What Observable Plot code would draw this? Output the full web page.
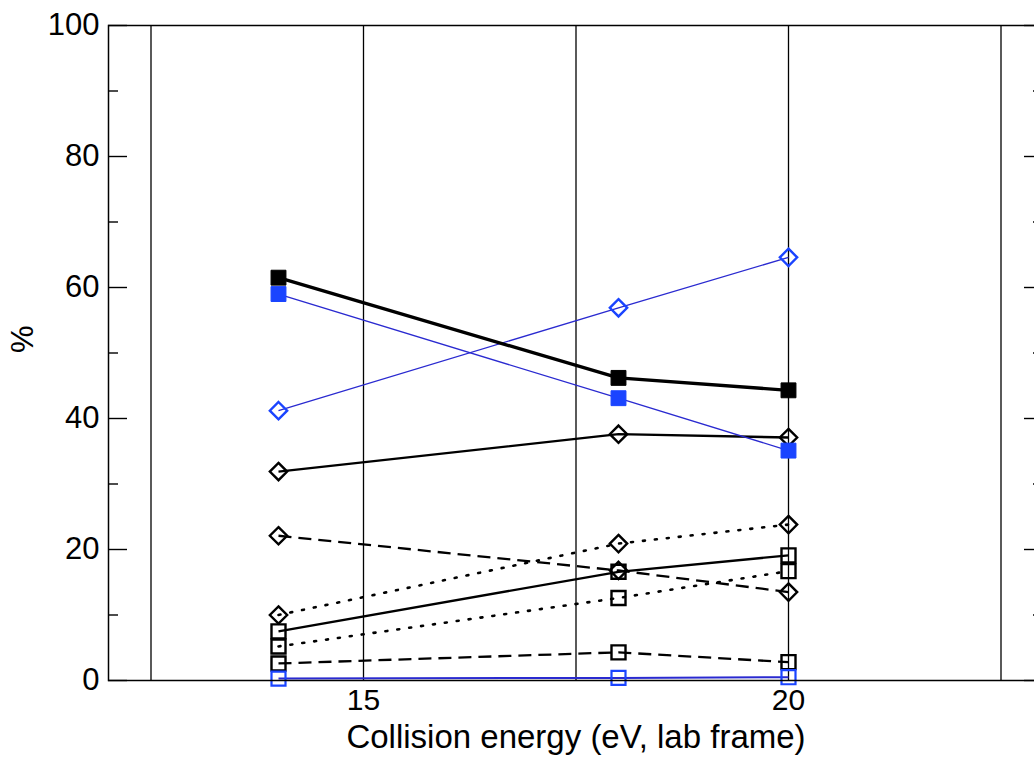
<!DOCTYPE html>
<html><head><meta charset="utf-8">
<script src="https://cdn.jsdelivr.net/npm/d3@7"></script>
<script src="https://cdn.jsdelivr.net/npm/@observablehq/plot@0.6"></script>
<style>
html,body{margin:0;padding:0;background:#fff;overflow:hidden;}
#chart{width:1034px;height:760px;overflow:hidden;}
#chart svg{display:block;max-width:none !important;width:1050px !important;height:760px !important;}
</style>
</head><body><div id="chart"></div>
<script>
// ---- data ----
const energies = [14, 18, 20];
const blackFilledSq  = [61.5, 46.2, 44.3];
const blueFilledSq   = [59.0, 43.1, 35.1];
const blueOpenDia    = [41.2, 56.9, 64.6];
const blackDiaSolid  = [31.9, 37.6, 37.1];
const blackDiaDashed = [22.1, 16.8, 13.5];
const blackDiaDotted = [10.0, 20.9, 23.8];
const blackSqSolid   = [7.5, 16.6, 19.1];
const blackSqDotted  = [5.2, 12.6, 16.7];
const blackSqDashed  = [2.6, 4.3, 2.8];
const blueOpenSq     = [0.3, 0.4, 0.5];

const gridX = [12.5, 15, 17.5, 20, 22.5];
const xTicks = [15, 20];
const yMajor = [0, 20, 40, 60, 80, 100];
const yMinor = [10, 30, 50, 70, 90];
const xLabel = "Collision energy (eV, lab frame)";
const yLabel = "%";

// ---- styles ----
const BLUE = "#1a44ff", BLUE_LINE = "#2a2ad0";
const series = [
  {v: blackDiaSolid,  stroke: "black", sw: 2.3, dash: null,  sym: "diamond2", fill: "none", ms: 2.4},
  {v: blackDiaDashed, stroke: "black", sw: 2.3, dash: "13,7", sym: "diamond2", fill: "none", ms: 2.4},
  {v: blackDiaDotted, stroke: "black", sw: 2.6, dash: "2,10", sym: "diamond2", fill: "none", ms: 2.4},
  {v: blackSqSolid,   stroke: "black", sw: 2.3, dash: null,  sym: "square", fill: "none", ms: 2.4},
  {v: blackSqDotted,  stroke: "black", sw: 2.6, dash: "2,10", sym: "square", fill: "none", ms: 2.4},
  {v: blackSqDashed,  stroke: "black", sw: 2.3, dash: "13,7", sym: "square", fill: "none", ms: 2.4},
  {v: blueOpenSq,     stroke: BLUE_LINE, sw: 2.0, dash: null, sym: "square", fill: "none", ms: 2.2, mstroke: BLUE},
  {v: blueOpenDia,    stroke: BLUE_LINE, sw: 1.3, dash: null, sym: "diamond2", fill: "none", ms: 2.4, mstroke: BLUE},
  {v: blueFilledSq,   stroke: BLUE_LINE, sw: 1.3, dash: null, sym: "square", fill: BLUE, ms: 1, mstroke: BLUE},
  {v: blackFilledSq,  stroke: "black", sw: 3.4, dash: null,  sym: "square", fill: "black", ms: 1}
];

const W = 1050, H = 760, mL = 108, mR = 7, mT = 25, mB = 80;
const frameW = W - mL - mR;
const FONT = 31, XTICK_FONT = 30, TITLE_FONT = 33;

const marks = [
  Plot.ruleX(gridX, {stroke: "black", strokeWidth: 1.3}),
  Plot.ruleY(yMajor, {stroke: "black", strokeWidth: 1.4, insetRight: frameW - 19}),
  Plot.ruleY(yMinor, {stroke: "black", strokeWidth: 1.4, insetRight: frameW - 10}),
  Plot.ruleY(yMajor, {stroke: "black", strokeWidth: 1.4, insetLeft: frameW - 19}),
  Plot.ruleY(yMinor, {stroke: "black", strokeWidth: 1.4, insetLeft: frameW - 10}),
];

for (const s of series) {
  const rows = energies.map((e, i) => ({x: e, y: s.v[i]}));
  marks.push(Plot.line(rows, {x: "x", y: "y", stroke: s.stroke, strokeWidth: s.sw,
    strokeDasharray: s.dash, strokeLinecap: s.dash === "2,10" ? "round" : "butt"}));
  const isSq = s.sym === "square";
  marks.push(Plot.dot(rows, {x: "x", y: "y", symbol: s.sym,
    r: isSq ? (s.fill === "none" ? 7.9 : 8.4) : 7.8,
    fill: s.fill, stroke: s.mstroke || s.stroke, strokeWidth: s.ms}));
}

marks.push(
  Plot.frame({stroke: "black", strokeWidth: 1.5}),
  Plot.axisX({ticks: xTicks, tickSize: 0, tickPadding: 8, label: null, fontSize: XTICK_FONT, tickFormat: d => String(d)}),
  Plot.axisY({ticks: yMajor, tickSize: 0, tickPadding: 9, label: null, fontSize: FONT, tickFormat: d => String(d)}),
  Plot.text([xLabel], {text: d => d, frameAnchor: "bottom", lineAnchor: "middle", dy: 57, fill: "black", fontSize: TITLE_FONT}),
  Plot.text([yLabel], {text: d => d, frameAnchor: "left", lineAnchor: "middle", dx: -85, rotate: -90, fill: "black", fontSize: FONT})
);

const chart = Plot.plot({
  width: W, height: H,
  marginLeft: mL, marginRight: mR, marginTop: mT, marginBottom: mB,
  x: {domain: [12, 23]},
  y: {domain: [0, 100]},
  style: {fontFamily: "'Liberation Sans', Arial, sans-serif", fontSize: FONT + "px", color: "black", background: "white"},
  marks
});
document.getElementById("chart").append(chart);
</script>
</body></html>
